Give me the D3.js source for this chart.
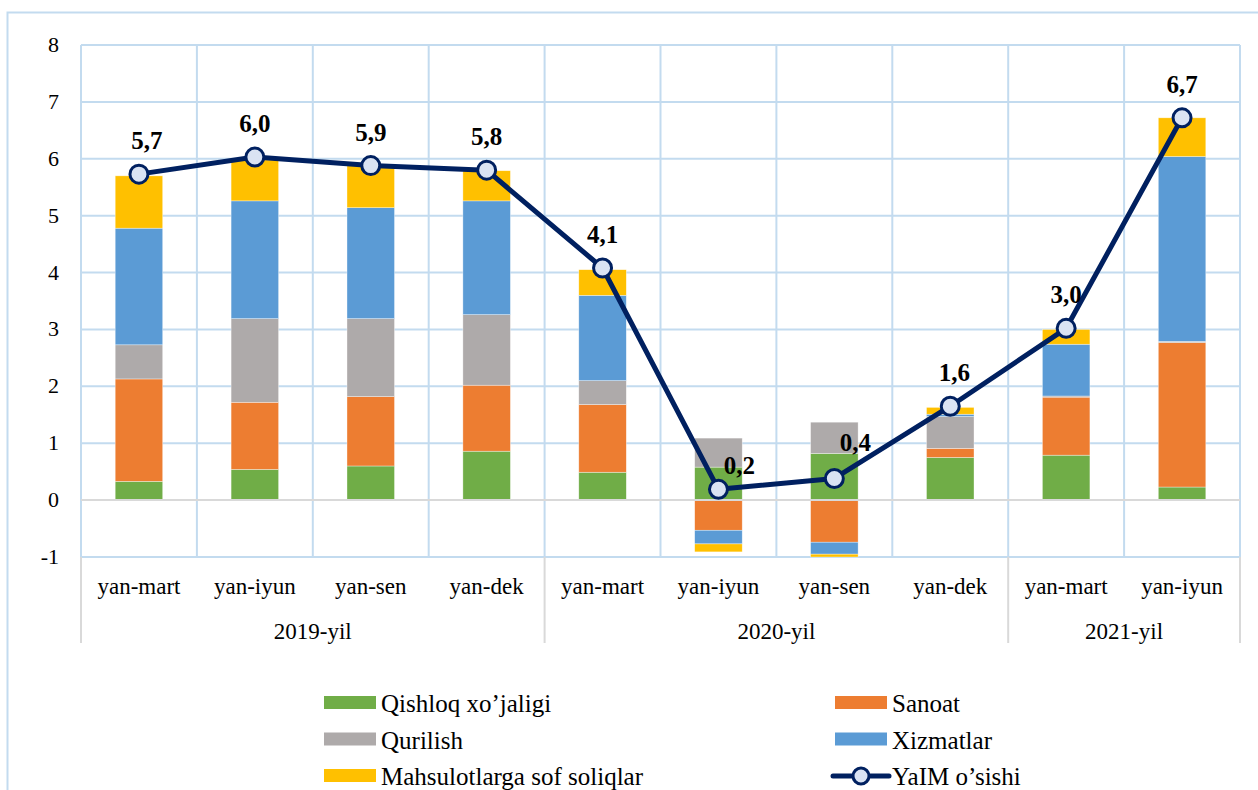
<!DOCTYPE html>
<html>
<head>
<script src="https://cdn.jsdelivr.net/npm/d3@7"></script>
</head>
<body style="margin:0">
<div id="chart"></div>
<script>
const periods = ["yan-mart", "yan-iyun", "yan-sen", "yan-dek", "yan-mart", "yan-iyun", "yan-sen", "yan-dek", "yan-mart", "yan-iyun"];
const yearOf = ["2019-yil", "2019-yil", "2019-yil", "2019-yil", "2020-yil", "2020-yil", "2020-yil", "2020-yil", "2021-yil", "2021-yil"];

const qishloq = [0.33, 0.54, 0.60, 0.86, 0.49, 0.58, 0.82, 0.75, 0.79, 0.23];
const sanoat = [1.80, 1.18, 1.22, 1.16, 1.19, -0.53, -0.74, 0.16, 1.02, 2.54];
const qurilish = [0.60, 1.47, 1.37, 1.24, 0.42, 0.51, 0.55, 0.56, 0.02, 0.02];
const xizmatlar = [2.05, 2.07, 1.95, 2.00, 1.50, -0.24, -0.21, 0.04, 0.91, 3.25];
const soliqlar = [0.92, 0.72, 0.74, 0.53, 0.45, -0.14, -0.05, 0.12, 0.26, 0.68];
const yaim = [5.73, 6.03, 5.88, 5.80, 4.08, 0.19, 0.38, 1.65, 3.02, 6.72];

const yTicks = [-1, 0, 1, 2, 3, 4, 5, 6, 7, 8];

const seriesNames = ["Qishloq xo\u2019jaligi", "Sanoat", "Qurilish", "Xizmatlar", "Mahsulotlarga sof soliqlar"];
const lineName = "YaIM o\u2019sishi";

const COLORS = ["#70ad47", "#ed7d31", "#aeaaaa", "#5b9bd5", "#ffc000"];
const LINE = "#002060";
const MARKER = "#dae3f3";
const GRID = "#c3dbef";

const width = 1258;
const height = 790;
const margin = { top: 45, right: 18, bottom: 233, left: 81 };

const rows = periods.map((p, i) => ({
  i,
  q: qishloq[i], s: sanoat[i], r: qurilish[i], x: xizmatlar[i], t: soliqlar[i],
}));
const keys = ["q", "s", "r", "x", "t"];

const svg = d3.select("#chart").append("svg")
  .attr("width", width)
  .attr("height", height);

// outer chart border
svg.append("rect")
  .attr("x", 7.5).attr("y", 12.5)
  .attr("width", width + 20).attr("height", height + 20)
  .attr("fill", "none")
  .attr("stroke", GRID)
  .attr("stroke-width", 2);

const x = d3.scaleBand()
  .domain(d3.range(periods.length))
  .range([margin.left, width - margin.right]);

const y = d3.scaleLinear()
  .domain([-1, 8])
  .range([height - margin.bottom, margin.top]);

const plotLeft = x.range()[0];
const plotRight = x.range()[1];

// horizontal grid
svg.append("g")
  .selectAll("line")
  .data(yTicks.filter((d) => d !== 0))
  .join("line")
  .attr("x1", plotLeft).attr("x2", plotRight)
  .attr("y1", (d) => y(d)).attr("y2", (d) => y(d))
  .attr("stroke", GRID)
  .attr("stroke-width", 2);

// vertical grid
svg.append("g")
  .selectAll("line")
  .data(d3.range(periods.length + 1))
  .join("line")
  .attr("x1", (d) => plotLeft + d * x.bandwidth())
  .attr("x2", (d) => plotLeft + d * x.bandwidth())
  .attr("y1", y(8)).attr("y2", y(-1))
  .attr("stroke", GRID)
  .attr("stroke-width", 2);

// y axis labels, drawn as plain texts
svg.append("g")
  .selectAll("text")
  .data(yTicks)
  .join("text")
  .attr("x", plotLeft - 22)
  .attr("y", (d) => y(d) + 7)
  .attr("text-anchor", "end")
  .attr("font-family", (d) => "Liberation Serif")
  .attr("font-size", 22)
  .text((d) => String(d));

// stacked bars
const stack = d3.stack().keys(keys).offset(d3.stackOffsetDiverging);
const stacked = stack(rows);
const barW = x.bandwidth() * 0.41;

svg.append("g")
  .selectAll("g")
  .data(stacked)
  .join("g")
  .attr("fill", (d, k) => COLORS[k])
  .selectAll("rect")
  .data((d) => d)
  .join("rect")
  .attr("x", (d) => x(d.data.i) + (x.bandwidth() - barW) / 2)
  .attr("width", barW)
  .attr("y", (d) => y(Math.max(d[0], d[1])))
  .attr("height", (d) => Math.abs(y(d[0]) - y(d[1])))
  .attr("stroke", "#ffffff")
  .attr("stroke-opacity", 0.6)
  .attr("stroke-width", 0.6);

// zero line
svg.append("line")
  .attr("x1", plotLeft).attr("x2", plotRight)
  .attr("y1", y(0)).attr("y2", y(0))
  .attr("stroke", "#d9d9d9")
  .attr("stroke-width", 2);

// category axis
const catY = y(-1);
svg.append("g")
  .selectAll("text")
  .data(periods)
  .join("text")
  .attr("x", (d, i) => x(i) + x.bandwidth() / 2)
  .attr("y", catY + 37)
  .attr("text-anchor", "middle")
  .attr("font-family", (d) => "Liberation Serif")
  .attr("font-size", 23)
  .text((d) => d);

const groups = d3.groups(d3.range(periods.length), (i) => yearOf[i]);
const bounds = [0];
groups.forEach(([, idx]) => bounds.push(idx[idx.length - 1] + 1));

svg.append("g")
  .selectAll("line")
  .data(bounds)
  .join("line")
  .attr("x1", (d) => plotLeft + d * x.bandwidth())
  .attr("x2", (d) => plotLeft + d * x.bandwidth())
  .attr("y1", catY).attr("y2", catY + 86)
  .attr("stroke", "#d9d9d9")
  .attr("stroke-width", 2);

svg.append("g")
  .selectAll("text")
  .data(groups)
  .join("text")
  .attr("x", ([, idx]) => (x(idx[0]) + x(idx[idx.length - 1]) + x.bandwidth()) / 2)
  .attr("y", catY + 82)
  .attr("text-anchor", "middle")
  .attr("font-family", (d) => "Liberation Serif")
  .attr("font-size", 23)
  .text(([label]) => label);

// GDP growth line
const cx = (i) => x(i) + x.bandwidth() / 2;
const line = d3.line().x((d, i) => cx(i)).y((d) => y(d));

svg.append("path")
  .datum(yaim)
  .attr("d", line)
  .attr("fill", "none")
  .attr("stroke", LINE)
  .attr("stroke-width", 5)
  .attr("stroke-linejoin", "round");

svg.append("g")
  .selectAll("circle")
  .data(yaim)
  .join("circle")
  .attr("cx", (d, i) => cx(i))
  .attr("cy", (d) => y(d))
  .attr("r", 9)
  .attr("fill", MARKER)
  .attr("stroke", LINE)
  .attr("stroke-width", 3);

const fmt = (v) => d3.format(".1f")(v).replace(".", ",");
const nudge = { 0: [8, 0], 5: [21, 10], 6: [21, -2], 7: [4, 0] };

svg.append("g")
  .selectAll("text")
  .data(yaim)
  .join("text")
  .attr("x", (d, i) => cx(i) + (nudge[i] ? nudge[i][0] : 0))
  .attr("y", (d, i) => y(d) - 25 + (nudge[i] ? nudge[i][1] : 0))
  .attr("text-anchor", "middle")
  .attr("font-family", (d) => "Liberation Serif")
  .attr("font-size", 25)
  .attr("font-weight", "bold")
  .text((d) => fmt(d));

// legend
const legendItems = [
  { name: seriesNames[0], kind: "bar", color: COLORS[0], col: 0, row: 0 },
  { name: seriesNames[1], kind: "bar", color: COLORS[1], col: 1, row: 0 },
  { name: seriesNames[2], kind: "bar", color: COLORS[2], col: 0, row: 1 },
  { name: seriesNames[3], kind: "bar", color: COLORS[3], col: 1, row: 1 },
  { name: seriesNames[4], kind: "bar", color: COLORS[4], col: 0, row: 2 },
  { name: lineName, kind: "line", color: LINE, col: 1, row: 2 },
];
const legendCols = [324, 835];
const legendTop = 703;
const legendStep = 36.5;

const li = svg.append("g")
  .selectAll("g")
  .data(legendItems)
  .join("g")
  .attr("transform", (d) => `translate(${legendCols[d.col]},${legendTop + d.row * legendStep})`);

li.filter((d) => d.kind === "bar")
  .append("rect")
  .attr("x", 0).attr("y", -7)
  .attr("width", 52).attr("height", 13)
  .attr("fill", (d) => d.color);

const ll = li.filter((d) => d.kind === "line");
ll.append("line")
  .attr("x1", -2).attr("x2", 54)
  .attr("y1", 0).attr("y2", 0)
  .attr("stroke", LINE)
  .attr("stroke-width", 5)
  .attr("stroke-linecap", "round");
ll.append("circle")
  .attr("cx", 26).attr("cy", 0).attr("r", 8)
  .attr("fill", MARKER)
  .attr("stroke", LINE)
  .attr("stroke-width", 3);

li.append("text")
  .attr("x", 57)
  .attr("y", 9)
  .attr("font-family", (d) => "Liberation Serif")
  .attr("font-size", 25)
  .text((d) => d.name);
</script>
</body>
</html>
